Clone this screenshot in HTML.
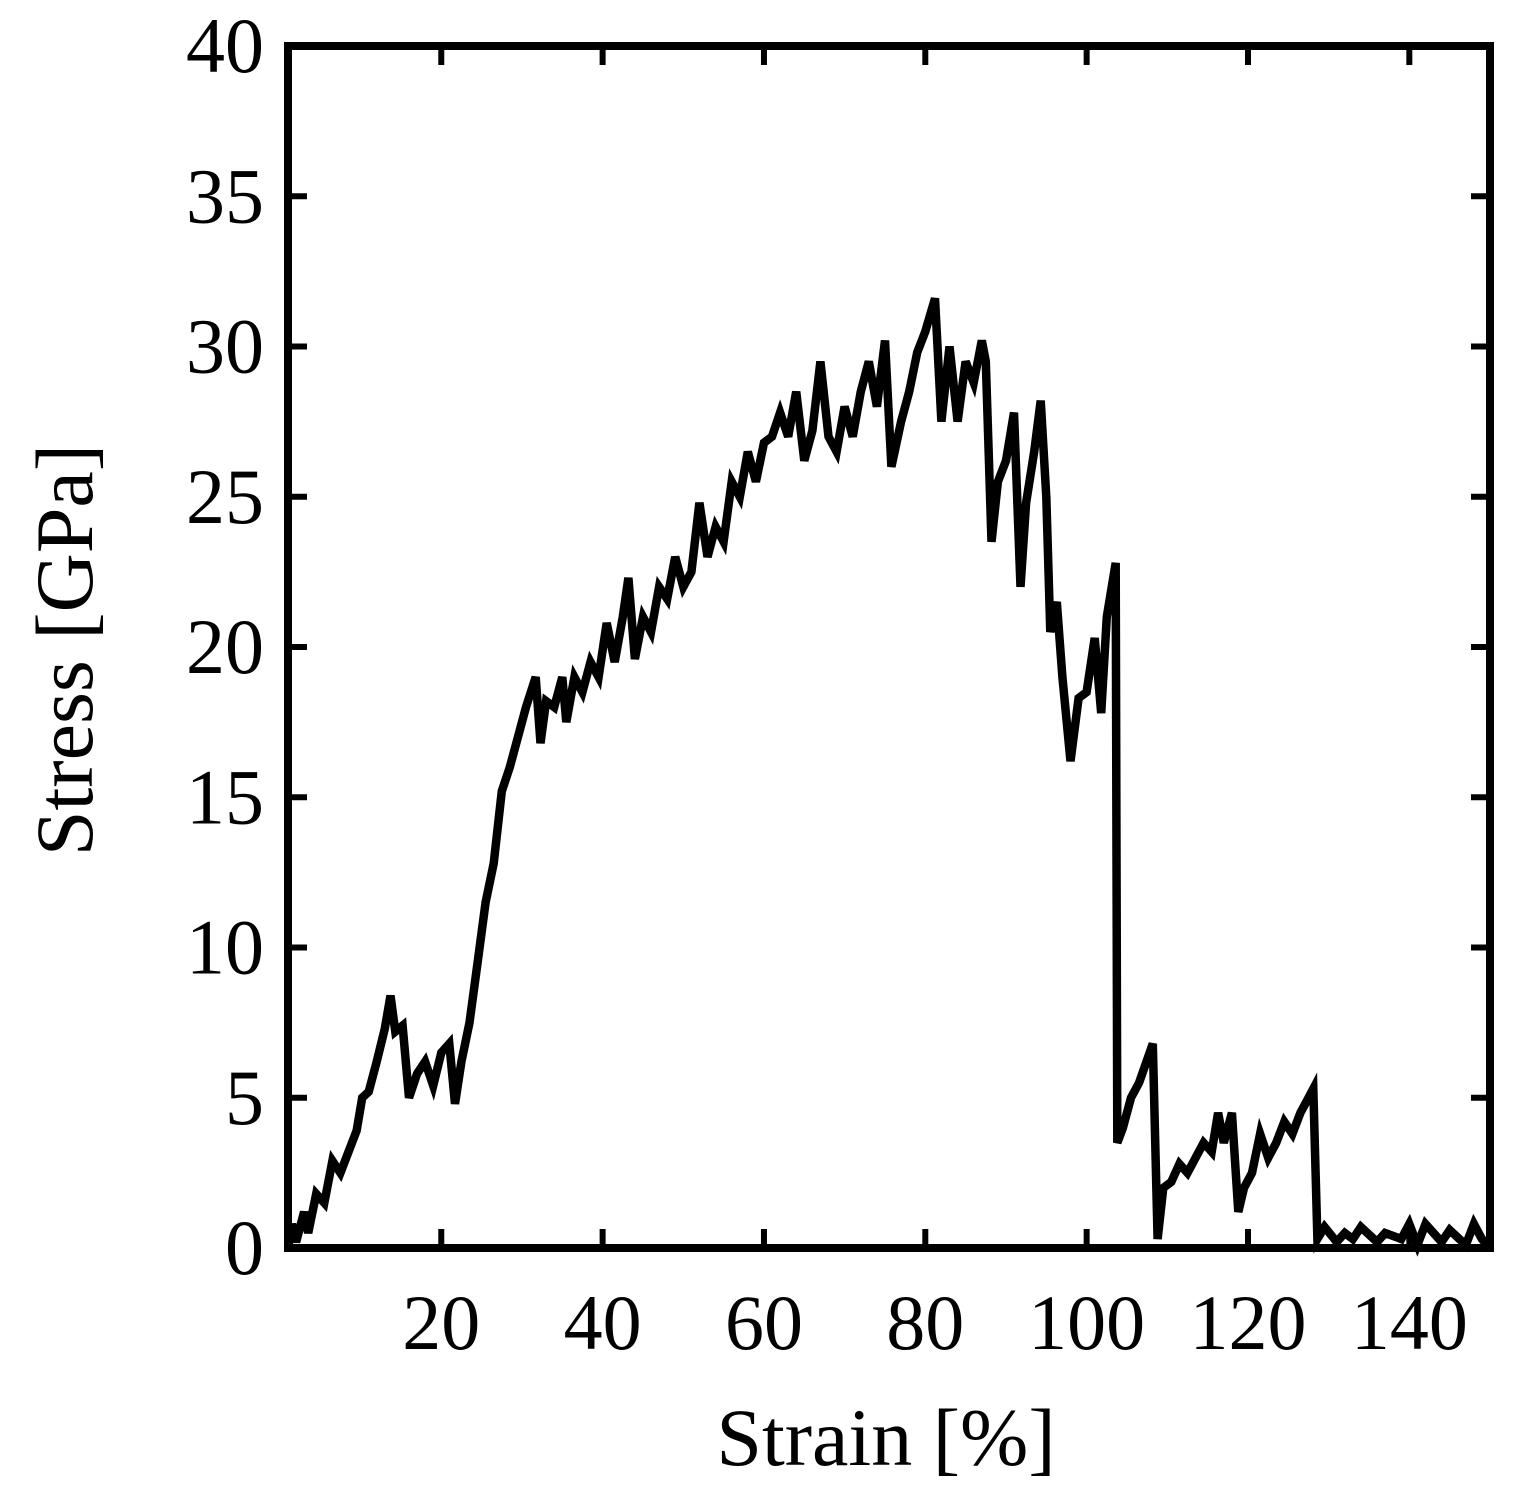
<!DOCTYPE html>
<html><head><meta charset="utf-8"><style>
html,body{margin:0;padding:0;background:#fff;}
svg{display:block;}
text{font-family:"Liberation Serif",serif;fill:#000;}
</style></head><body>
<svg id="chart" width="1519" height="1506" viewBox="0 0 1519 1506" xmlns="http://www.w3.org/2000/svg">
<g id="ticks"></g>
<path id="series" fill="none" stroke="#000" stroke-width="8.5" stroke-linejoin="miter"/>
<rect x="288" y="46" width="1202" height="1202" fill="none" stroke="#000" stroke-width="8"/>
<text x="886" y="1465" font-size="82" text-anchor="middle">Strain [%]</text>
<text transform="translate(92,650) rotate(-90)" font-size="82" text-anchor="middle">Stress [GPa]</text>
</svg>
<script>
const strain=[1,1.5,2,3,3.5,4.5,5.5,6.5,7.5,8.5,9.5,10.2,11,12,13,13.7,14.3,15.2,16,17,18,19,20,21,21.7,22.5,23.5,24.5,25.5,26.5,27.5,28.5,29.5,30.5,31.7,32.3,33,34,35,35.5,36.5,37.5,38.5,39.5,40.5,41.5,42.5,43.2,44,45,46,47,48,49,50,51,52,53,54,55,56,57,58,59,60,61,62,63,64,65,66,67,68,69,70,71,72,73,74,75,75.8,77,78,79,80,81.2,82,83,84,85,86,87,87.5,88.2,89,90,91,91.8,92.5,93.5,94.3,95,95.5,96.3,97,98,99,100,101,101.8,102.5,103.6,103.8,104.5,105.5,106.5,108.2,108.8,109.5,110.5,111.5,112.5,113.5,114.5,115.5,116.3,117,118,118.8,119.5,120.5,121.5,122.5,123.5,124.5,125.5,126.5,127.5,128.1,128.6,129.5,131,132,133,134,136,137,139,140,141,142,144,145,147,148,149,150];
const stress=[0,0.8,0.2,1.2,0.5,1.8,1.5,2.9,2.5,3.2,3.9,5.0,5.2,6.2,7.3,8.4,7.2,7.4,5.0,5.8,6.2,5.4,6.5,6.8,4.8,6.2,7.5,9.5,11.5,12.8,15.2,16.0,17.0,18.0,19.0,16.8,18.2,18.0,19.0,17.5,19.0,18.5,19.5,19.0,20.8,19.5,21.0,22.3,19.6,21.0,20.5,22.0,21.6,23.0,22.0,22.5,24.8,23.0,24.0,23.5,25.5,25.0,26.5,25.5,26.8,27.0,27.8,27.0,28.5,26.2,27.2,29.5,27.0,26.5,28.0,27.0,28.5,29.5,28.0,30.2,26.0,27.5,28.5,29.8,30.5,31.6,27.5,30.0,27.5,29.5,28.8,30.2,29.5,23.5,25.5,26.2,27.8,22.0,24.8,26.5,28.2,25.0,20.5,21.5,19.0,16.2,18.3,18.5,20.3,17.8,21.0,22.8,3.5,4.0,5.0,5.5,6.8,0.3,2.0,2.2,2.8,2.5,3.0,3.5,3.2,4.5,3.5,4.5,1.2,2.0,2.5,3.8,3.0,3.5,4.2,3.8,4.5,5.0,5.3,0.3,0.7,0.2,0.5,0.3,0.7,0.2,0.5,0.3,0.8,0.1,0.8,0.2,0.6,0.1,0.8,0.3,0];
const xTicks=[20,40,60,80,100,120,140];
const yTicks=[0,5,10,15,20,25,30,35,40];
const X0=288,X1=1490,Y0=1248,Y1=46,XMIN=1,XMAX=150,YMIN=0,YMAX=40;
function sx(v){return X0+(v-XMIN)/(XMAX-XMIN)*(X1-X0);}
function sy(v){return Y0-(v-YMIN)/(YMAX-YMIN)*(Y0-Y1);}
const NS="http://www.w3.org/2000/svg";
const g=document.getElementById('ticks');
function ln(x1,y1,x2,y2,name){const l=document.createElementNS(NS,'line');l.setAttribute('x1',x1);l.setAttribute('y1',y1);l.setAttribute('x2',x2);l.setAttribute('y2',y2);l.setAttribute('stroke','#000');l.setAttribute('stroke-width','6');


g.appendChild(l);}
function tx(x,y,s,anchor,name){const t=document.createElementNS(NS,'text');t.setAttribute('x',x);t.setAttribute('y',y);t.setAttribute('font-size','78');t.setAttribute('text-anchor',anchor);t.textContent=s;


g.appendChild(t);}
xTicks.forEach(v=>{const x=sx(v);ln(x,Y0,x,Y0-19,'x-tick');ln(x,Y1,x,Y1+19,'x-tick-top');tx(x,1349,String(v),'middle','x-tick-label');});
yTicks.forEach(v=>{const y=sy(v);ln(X0,y,X0+19,y,'y-tick');ln(X1,y,X1-19,y,'y-tick-right');tx(264,y+26,String(v),'end','y-tick-label');});
let d='';strain.forEach((s,i)=>{d+=(i?'L':'M')+sx(s).toFixed(1)+' '+sy(stress[i]).toFixed(1);});
document.getElementById('series').setAttribute('d',d);
</script>
</body></html>
